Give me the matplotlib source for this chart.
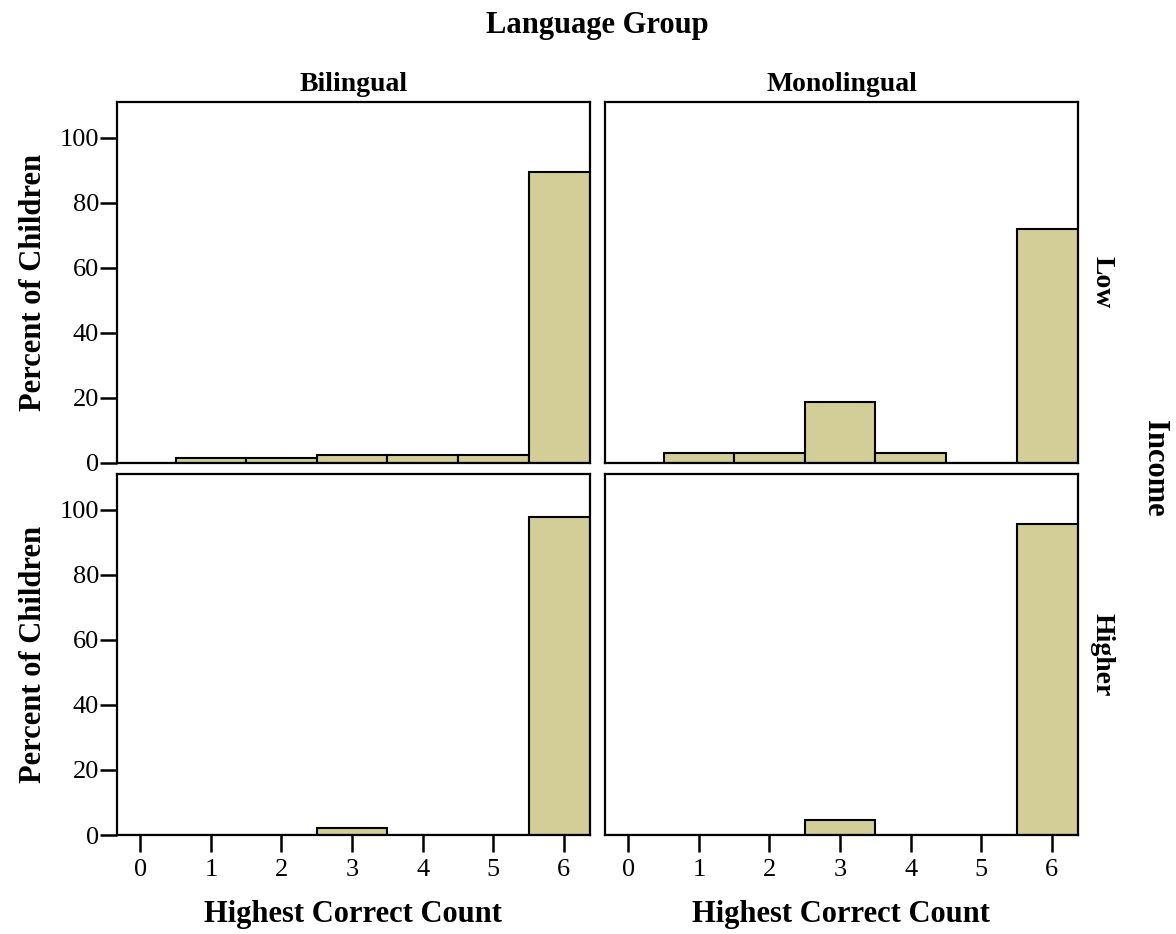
import numpy as np
import matplotlib
matplotlib.use('Agg')
import matplotlib.pyplot as plt

plt.rcParams['font.family'] = ['Liberation Serif', 'DejaVu Serif']

counts = [0, 1, 2, 3, 4, 5, 6]
languages = ['Bilingual', 'Monolingual']
incomes = ['Low', 'Higher']

# percent of children per highest correct count
low_bilingual = [0, 1.6, 1.6, 2.4, 2.4, 2.4, 89.6]
low_monolingual = [0, 3.1, 3.1, 18.8, 3.1, 0, 71.9]
higher_bilingual = [0, 0, 0, 2.2, 0, 0, 97.8]
higher_monolingual = [0, 0, 0, 4.5, 0, 0, 95.5]

data = [[low_bilingual, low_monolingual],
        [higher_bilingual, higher_monolingual]]

W, H = 1176, 934
fig = plt.figure(figsize=(W/100, H/100), dpi=100)

lefts = [117, 605]
tops = [102, 474]
aw, ah = 473, 361
bar_color = '#d3ce97'

for r in range(2):
    for c in range(2):
        ax = fig.add_axes([lefts[c]/W, 1-(tops[r]+ah)/H, aw/W, ah/H])
        vals = data[r][c]
        ax.bar(counts, vals, width=1.0, color=bar_color, edgecolor='black', linewidth=1.5)
        ax.set_xlim(-0.33, 6.37)
        ax.set_ylim(0, 111)
        for s in ax.spines.values():
            s.set_linewidth(1.6)
        ax.tick_params(width=1.8, length=12, labelsize=19, direction='out')
        ax.tick_params(axis='y', pad=1)
        ax.tick_params(axis='x', pad=5)
        if c == 0:
            ax.set_yticks([0, 20, 40, 60, 80, 100])
            ax.set_ylabel('Percent of Children', fontsize=22, fontweight='bold', labelpad=8)
        else:
            ax.set_yticks([])
        if r == 1:
            ax.set_xticks(counts)
            ax.set_xlabel('Highest Correct Count', fontsize=22, fontweight='bold', labelpad=14)
        else:
            ax.set_xticks([])
        if r == 0:
            ax.set_title(languages[c], fontsize=20, fontweight='bold', pad=8)
        if c == 1:
            ax.text(1.025, 0.5, incomes[r], transform=ax.transAxes, rotation=-90,
                    fontsize=20, fontweight='bold', va='center', ha='left')

fig.text(597/W, 1-25/H, 'Language Group', fontsize=22, fontweight='bold', ha='center', va='center')
fig.text(1155/W, 1-468/H, 'Income', fontsize=22, fontweight='bold', ha='center', va='center', rotation=-90)

fig.savefig('out.png', dpi=100)
